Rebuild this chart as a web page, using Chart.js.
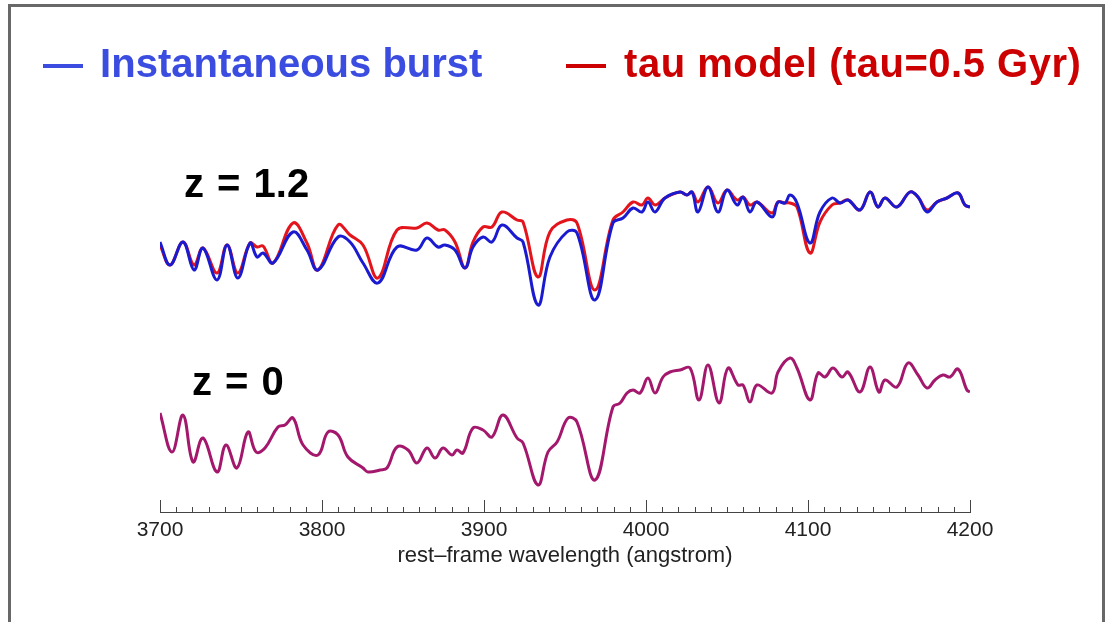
<!DOCTYPE html>
<html>
<head>
<meta charset="utf-8">
<script src="https://cdn.jsdelivr.net/npm/chart.js@4.4.1/dist/chart.umd.min.js"></script>
<style>
  html, body { margin: 0; padding: 0; background: #fff; }
  body { width: 1112px; height: 622px; position: relative; overflow: hidden; font-family: "Liberation Sans", Arial, sans-serif; }
  #frame { position: absolute; left: 8px; top: 4px; width: 1091px; height: 640px; border: 3px solid #686868; border-bottom: none; }
  #chart { position: absolute; left: 0; top: 0; }
  .lbl { position: absolute; font-weight: bold; white-space: nowrap; line-height: 40px; }
  .lbl .streep { margin-right: 6px; }
  #leg-blue { left: 43px; top: 43px; font-size: 40px; color: #3b4de0; }
  #leg-red { left: 566px; top: 43px; font-size: 40px; color: #cc0000; letter-spacing: 0.5px; }
  #z12 { left: 184px; top: 163px; font-size: 40px; color: #000; word-spacing: 2px; }
  #z0 { left: 192px; top: 361px; font-size: 40px; color: #000; word-spacing: 2px; }
</style>
</head>
<body>
<div id="frame"></div>
<canvas id="chart" width="1112" height="622"></canvas>
<div class="lbl" id="leg-blue"><span class="streep">—</span> Instantaneous burst</div>
<div class="lbl" id="leg-red"><span class="streep">—</span> tau model (tau=0.5 Gyr)</div>
<div class="lbl" id="z12">z = 1.2</div>
<div class="lbl" id="z0">z = 0</div>
<script>
'use strict';

// z = 1.2 spectra (rest-frame wavelength, offset flux)
const golfTop = [3700, 3706.2, 3714.2, 3721.0, 3726.5, 3735.2, 3741.4, 3748.1, 3755.6, 3759.9,
  3763.6, 3769.8, 3782.1, 3790.7, 3797.5, 3809.9, 3817.3, 3825.3, 3834.6, 3846.3,
  3858.6, 3864.8, 3871.6, 3875.9, 3882.1, 3888.3, 3893.2, 3899.4, 3904.9, 3911.1,
  3920.4, 3924.1, 3933.3, 3940.7, 3951.2, 3957.4, 3968.5, 3979.6, 3985.8, 3992.0,
  3997.5, 4001.2, 4005.6, 4011.7, 4021.0, 4025.3, 4028.4, 4032.1, 4038.3, 4044.4,
  4050.0, 4056.2, 4059.9, 4064.2, 4068.5, 4077.8, 4081.5, 4085.8, 4088.9, 4093.2,
  4101.2, 4107.4, 4114.8, 4119.8, 4124.7, 4132.1, 4138.3, 4143.2, 4147.5, 4154.9,
  4163.0, 4167.9, 4173.5, 4179.6, 4185.8, 4192.6, 4196.9, 4200];
const burst = [2.70, 2.47, 2.70, 2.42, 2.64, 2.32, 2.67, 2.34, 2.69, 2.55,
  2.59, 2.49, 2.80, 2.62, 2.42, 2.75, 2.70, 2.49, 2.29, 2.65,
  2.62, 2.74, 2.65, 2.67, 2.62, 2.44, 2.65, 2.75, 2.70, 2.87,
  2.74, 2.70, 2.07, 2.55, 2.80, 2.79, 2.12, 2.89, 2.94, 3.04,
  3.00, 3.10, 3.00, 3.14, 3.20, 3.17, 3.20, 3.00, 3.25, 3.00,
  3.22, 3.07, 3.15, 3.00, 3.10, 2.95, 3.10, 3.09, 3.17, 3.09,
  2.69, 3.00, 3.14, 3.09, 3.12, 3.02, 3.20, 3.05, 3.14, 3.05,
  3.20, 3.15, 3.00, 3.10, 3.14, 3.19, 3.07, 3.05];
const tauModel = [2.67, 2.47, 2.70, 2.47, 2.64, 2.39, 2.67, 2.39, 2.69, 2.65,
  2.66, 2.49, 2.89, 2.69, 2.42, 2.87, 2.77, 2.67, 2.34, 2.82,
  2.84, 2.89, 2.82, 2.82, 2.70, 2.44, 2.70, 2.85, 2.85, 3.00,
  2.92, 2.90, 2.35, 2.80, 2.92, 2.89, 2.22, 2.92, 3.00, 3.10,
  3.07, 3.14, 3.07, 3.14, 3.20, 3.17, 3.20, 3.10, 3.25, 3.09,
  3.22, 3.12, 3.15, 3.07, 3.10, 2.99, 3.10, 3.09, 3.09, 3.05,
  2.59, 2.90, 3.07, 3.09, 3.12, 3.02, 3.20, 3.05, 3.14, 3.05,
  3.20, 3.15, 3.02, 3.10, 3.14, 3.19, 3.07, 3.05];

// z = 0 spectrum
const golfBottom = [3700, 3707.4, 3714.2, 3720.4, 3726.5, 3735.2, 3740.7, 3747.5, 3754.3, 3759.3,
  3764.8, 3772.8, 3777.2, 3782.1, 3788.3, 3797.5, 3803.7, 3809.9, 3816.0, 3825.3,
  3828.4, 3835.8, 3840.1, 3846.3, 3853.1, 3858.6, 3864.8, 3869.8, 3874.7, 3880.2,
  3883.3, 3887.0, 3893.2, 3899.4, 3904.9, 3911.7, 3920.4, 3924.1, 3933.3, 3939.5,
  3945.1, 3951.9, 3957.4, 3968.5, 3979.6, 3984.0, 3988.3, 3992.0, 3996.3, 4001.2,
  4005.6, 4010.5, 4014.8, 4021.0, 4027.2, 4032.7, 4038.3, 4045.1, 4050.6, 4056.8,
  4059.9, 4064.2, 4068.5, 4077.8, 4081.5, 4088.9, 4093.2, 4101.2, 4106.2, 4110.5,
  4115.4, 4121.0, 4124.7, 4132.1, 4138.3, 4143.8, 4147.5, 4154.9, 4161.7, 4167.9,
  4173.5, 4178.4, 4183.3, 4187.7, 4192.6, 4198.1, 4200];
const zNul = [0.99, 0.60, 0.97, 0.50, 0.74, 0.40, 0.67, 0.44, 0.80, 0.60,
  0.64, 0.85, 0.87, 0.94, 0.67, 0.57, 0.80, 0.77, 0.55, 0.44,
  0.40, 0.42, 0.44, 0.65, 0.62, 0.49, 0.64, 0.54, 0.64, 0.57,
  0.62, 0.59, 0.84, 0.82, 0.75, 0.97, 0.74, 0.69, 0.27, 0.60,
  0.70, 0.94, 0.90, 0.32, 1.05, 1.09, 1.19, 1.22, 1.19, 1.34,
  1.19, 1.35, 1.40, 1.42, 1.44, 1.12, 1.47, 1.09, 1.44, 1.27,
  1.27, 1.10, 1.27, 1.19, 1.40, 1.54, 1.44, 1.12, 1.39, 1.35,
  1.44, 1.35, 1.40, 1.20, 1.45, 1.20, 1.32, 1.25, 1.49, 1.37,
  1.24, 1.32, 1.37, 1.35, 1.43, 1.22, 1.20];

const xTicks = [3700, 3800, 3900, 4000, 4100, 4200];

const punten = (xs, ys) => xs.map((x, i) => ({ x: x, y: ys[i] }));

/* Korte streepjes naar boven op de x-as: elke 10 Å, lang bij elke 100 Å. */
const asStreepjes = {
  id: 'asStreepjes',
  afterDraw(chart) {
    const x = chart.scales.x, ctx = chart.ctx, onder = chart.chartArea.bottom;
    ctx.save();
    ctx.strokeStyle = '#444';
    ctx.lineWidth = 1;
    ctx.beginPath();
    for (let v = x.min; v <= x.max; v += 10) {
      const px = Math.round(x.getPixelForValue(v)) + 0.5;
      const lang = xTicks.includes(v) ? 12 : 5;
      ctx.moveTo(px, onder);
      ctx.lineTo(px, onder - lang);
    }
    ctx.stroke();
    ctx.restore();
  }
};

const lijn = (data, kleur) => ({
  data: data, borderColor: kleur, borderWidth: 3, pointRadius: 0,
  fill: false, tension: 0.4
});

new Chart(document.getElementById('chart'), {
  type: 'line',
  plugins: [asStreepjes],
  data: {
    datasets: [
      lijn(punten(golfTop, burst), '#1a1ad0'),
      lijn(punten(golfTop, tauModel), '#e3141c'),
      lijn(punten(golfBottom, zNul), '#a3186c')
    ]
  },
  options: {
    responsive: false,
    animation: false,
    layout: { padding: { left: 160, right: 142, top: 100, bottom: 0 } },
    plugins: { legend: { display: false }, tooltip: { enabled: false } },
    scales: {
      x: {
        type: 'linear', min: 3700, max: 4200,
        afterBuildTicks: s => { s.ticks = xTicks.map(v => ({ value: v })); },
        afterFit: s => { s.height = 110; },
        grid: { display: false, drawTicks: false },
        border: { display: true, color: '#444', width: 1 },
        ticks: {
          color: '#222', padding: 6, maxRotation: 0,
          font: { family: 'Liberation Sans', size: 21 },
          callback: v => String(v)
        },
        title: {
          display: true, text: 'rest\u2013frame wavelength (angstrom)', color: '#222',
          font: { family: 'Liberation Sans', size: 22 }, padding: { top: 0, bottom: 53 }
        }
      },
      y: { display: false, min: 0, max: 4.12 }
    }
  }
});
</script>
</body>
</html>
